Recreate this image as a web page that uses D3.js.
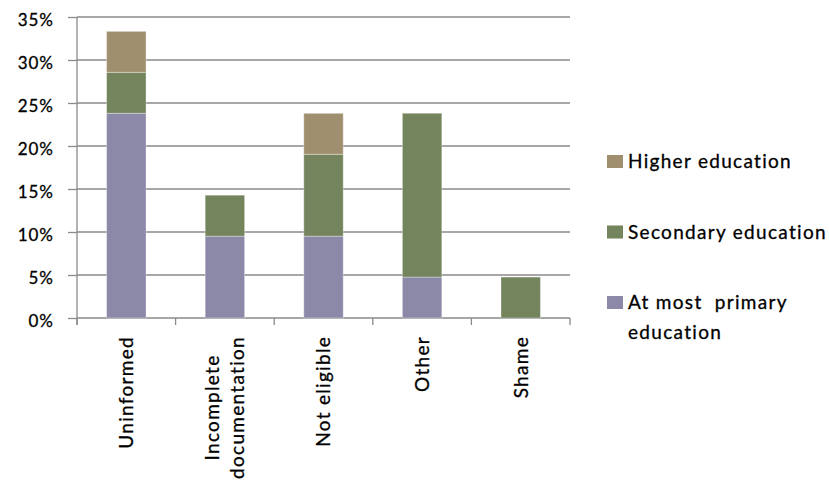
<!DOCTYPE html>
<html>
<head>
<meta charset="utf-8">
<script src="https://cdn.jsdelivr.net/npm/d3@7"></script>
<style>
  html, body { margin: 0; padding: 0; background: #fff; }
  svg { display: block; font-family: Lato, "Open Sans", sans-serif; }
  .txt { fill: #000; stroke: #000; stroke-width: 0.3px; }
</style>
</head>
<body>
<svg id="chart" width="829" height="483"></svg>
<script>
// Reasons given, split by education level (share of respondents, %)
const categories = ["Uninformed", "Incomplete documentation", "Not eligible", "Other", "Shame"];
const categoryLines = [["Uninformed"], ["Incomplete", "documentation"], ["Not eligible"], ["Other"], ["Shame"]];
const primary   = [23.81, 9.52, 9.52, 4.76, 0];
const secondary = [4.76, 4.76, 9.52, 19.05, 4.76];
const higher    = [4.76, 0, 4.76, 0, 0];
const seriesKeys = ["primary", "secondary", "higher"];
const seriesLegend = [["At most  primary", "education"], ["Secondary education"], ["Higher education"]];
const seriesColors = ["#8b89a7", "#74845d", "#a08f6f"];
const yTicks = [0, 5, 10, 15, 20, 25, 30, 35];

const rows = categories.map((c, i) => ({
  category: c, primary: primary[i], secondary: secondary[i], higher: higher[i]
}));

const svg = d3.select("#chart");
const plot = { left: 77, right: 570, top: 17, bottom: 318 };

const x = d3.scaleBand().domain(categories)
  .range([plot.left, plot.right]).paddingInner(0.6).paddingOuter(0.3);
const y = d3.scaleLinear().domain([0, 35]).range([plot.bottom, plot.top]);
const color = d3.scaleOrdinal().domain(seriesKeys).range(seriesColors);

// Horizontal gridlines
svg.append("g")
  .selectAll("line").data(yTicks).join("line")
  .attr("x1", plot.left).attr("x2", plot.right)
  .attr("y1", d => y(d)).attr("y2", d => y(d))
  .attr("stroke", "#8a8a8a").attr("stroke-width", 1.3);

// Y axis with outward ticks and percentage labels
const yAxis = svg.append("g")
  .attr("transform", `translate(${plot.left},0)`)
  .call(d3.axisLeft(y).tickValues(yTicks).tickSize(9).tickPadding(14)
    .tickFormat(d => d + "%"));
yAxis.select(".domain").remove();
yAxis.selectAll(".tick line").attr("stroke", "#8a8a8a").attr("stroke-width", 1.3);
yAxis.selectAll(".tick text")
  .attr("class", "txt")
  .attr("font-family", "Lato, sans-serif")
  .attr("font-size", 17)
  .attr("letter-spacing", 1)
  .attr("dy", "0.5em");
yAxis.append("line")
  .attr("x1", 0).attr("x2", 0)
  .attr("y1", plot.top).attr("y2", plot.bottom + 7)
  .attr("stroke", "#8a8a8a").attr("stroke-width", 1.3);

// Category separators below the baseline
const sepPos = d3.range(categories.length + 1).map(i => plot.left + i * x.step());
svg.append("g").selectAll("line").data(sepPos).join("line")
  .attr("x1", d => d).attr("x2", d => d)
  .attr("y1", plot.bottom).attr("y2", plot.bottom + 7)
  .attr("stroke", "#8a8a8a").attr("stroke-width", 1.3);

// Stacked bars
const stacked = d3.stack().keys(seriesKeys)(rows);
svg.append("g")
  .selectAll("g").data(stacked).join("g")
  .attr("fill", d => color(d.key))
  .selectAll("rect").data(d => d).join("rect")
  .attr("x", d => x(d.data.category))
  .attr("width", x.bandwidth())
  .attr("y", d => y(d[1]))
  .attr("height", d => y(d[0]) - y(d[1]))
  .attr("stroke", "rgba(255,255,255,0.35)").attr("stroke-width", 1);

// Rotated category labels, lines centred on each other
const labelTop = 336;
const lineGap = 25;
const labels = svg.append("g").attr("font-size", 19)
  .attr("letter-spacing", 1.3);
categoryLines.forEach((lines, i) => {
  const cx = x(categories[i]) + x.bandwidth() / 2;
  const t = labels.append("text").attr("class", "txt").attr("text-anchor", "middle");
  lines.forEach((ln, j) => {
    t.append("tspan").attr("x", 0)
      .attr("y", (j - (lines.length - 1) / 2) * lineGap)
      .attr("dy", "0.36em").text(ln);
  });
  const len = d3.max(t.selectAll("tspan").nodes(), n => n.getComputedTextLength());
  t.attr("transform", `translate(${cx},${labelTop + len / 2}) rotate(-90)`);
});

// Legend, top entry is the top stack segment
const legend = svg.append("g").attr("font-size", 19)
  .attr("letter-spacing", 1.3);
const legendOrder = [2, 1, 0];
legendOrder.forEach((s, k) => {
  const base = 168 + k * 70.5;
  const g = legend.append("g");
  g.append("rect").attr("x", 607).attr("y", base - 13)
    .attr("width", 16).attr("height", 13).attr("fill", seriesColors[s]);
  const t = g.append("text").attr("class", "txt").attr("x", 628).attr("y", base);
  seriesLegend[s].forEach((ln, j) => {
    t.append("tspan").attr("x", 628).attr("dy", j === 0 ? 0 : 30)
      .attr("xml:space", "preserve").text(ln);
  });
});
</script>
</body>
</html>
